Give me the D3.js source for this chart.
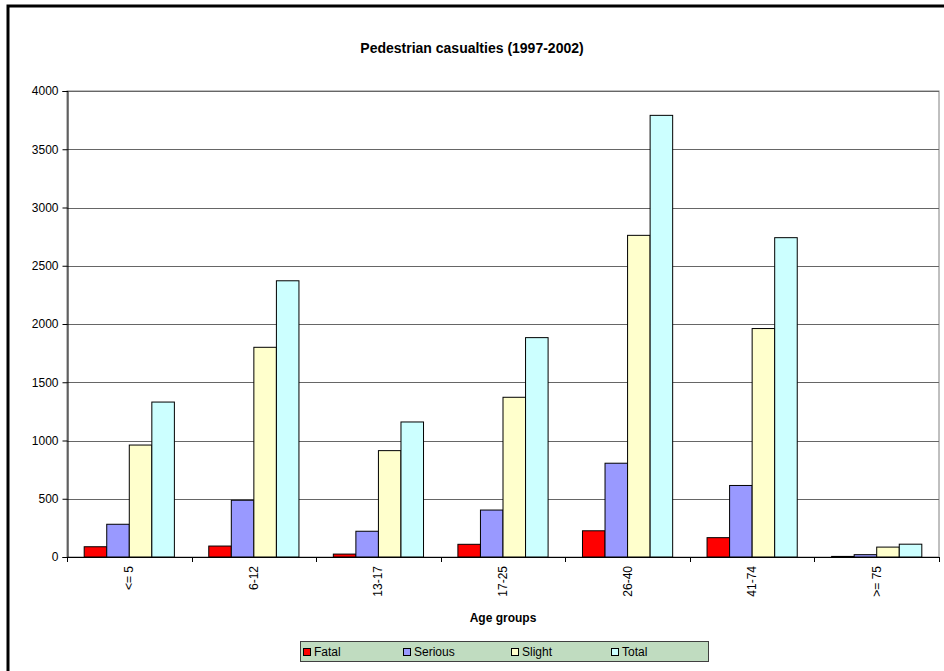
<!DOCTYPE html>
<html>
<head>
<meta charset="utf-8">
<script src="https://cdn.jsdelivr.net/npm/d3@7"></script>
<style>
  html, body { margin: 0; padding: 0; background: #fff; }
  svg { display: block; font-family: "Liberation Sans", Arial, sans-serif; }
</style>
</head>
<body>
<script>
// Pedestrian casualties by age group, 1997-2002
const categories = ["<= 5", "6-12", "13-17", "17-25", "26-40", "41-74", ">= 75"];
const seriesNames = ["Fatal", "Serious", "Slight", "Total"];
const fatal   = [88, 94, 25, 109, 225, 166, 5];
const serious = [281, 487, 221, 403, 805, 614, 20];
const slight  = [961, 1800, 913, 1371, 2761, 1961, 85];
const total   = [1330, 2371, 1159, 1883, 3791, 2741, 110];
const yTicks  = [0, 500, 1000, 1500, 2000, 2500, 3000, 3500, 4000];
const colors  = ["#FF0000", "#9999FF", "#FFFFCC", "#CCFFFF"];

const values = [fatal, serious, slight, total];
const rows = categories.map((c, i) => ({
  cat: c,
  vals: seriesNames.map((s, k) => ({ series: s, value: values[k][i] }))
}));

const W = 944, H = 671;
const plot = { left: 67, right: 939, top: 91, bottom: 557 };

const svg = d3.select("body").append("svg")
  .attr("width", W).attr("height", H);

// chart frame
svg.append("rect")
  .attr("x", 8).attr("y", 6)
  .attr("width", 1000).attr("height", 1000)
  .attr("fill", "#fff").attr("stroke", "#000").attr("stroke-width", 3);

const x0 = d3.scaleBand().domain(categories)
  .range([plot.left, plot.right]).paddingInner(0).paddingOuter(0);
const groupW = x0.bandwidth() * 0.724;
const x1 = d3.scaleBand().domain(seriesNames)
  .range([0, groupW]).padding(0);
const y = d3.scaleLinear().domain([0, 4000]).range([plot.bottom, plot.top]);

// plot area border
svg.append("rect")
  .attr("x", plot.left).attr("y", plot.top)
  .attr("width", plot.right - plot.left).attr("height", plot.bottom - plot.top)
  .attr("fill", "#fff").attr("stroke", "#808080").attr("stroke-width", 1);

// horizontal gridlines
svg.append("g").selectAll("line")
  .data(yTicks.filter(t => t > 0))
  .join("line")
  .attr("x1", plot.left).attr("x2", plot.right)
  .attr("y1", d => Math.round(y(d)) + 0.5).attr("y2", d => Math.round(y(d)) + 0.5)
  .attr("stroke", "#666").attr("stroke-width", 1);

// bars
const groups = svg.append("g").selectAll("g")
  .data(rows).join("g")
  .attr("transform", d => `translate(${x0(d.cat) + (x0.bandwidth() - groupW) / 2},0)`);

groups.selectAll("rect")
  .data(d => d.vals).join("rect")
  .attr("x", d => x1(d.series))
  .attr("y", d => y(d.value))
  .attr("width", x1.bandwidth())
  .attr("height", d => y(0) - y(d.value))
  .attr("fill", (d, i) => colors[i])
  .attr("stroke", "#000").attr("stroke-width", 1);

// y axis
const yAxis = svg.append("g")
  .attr("transform", `translate(${plot.left + 0.5},0)`)
  .call(d3.axisLeft(y).tickValues(yTicks).tickSize(5).tickPadding(4).tickFormat(d3.format("d")));
yAxis.select(".domain").attr("stroke", "#000");
yAxis.selectAll(".tick line").attr("stroke", "#000");
yAxis.selectAll("text").attr("font-size", 12).attr("fill", "#000")
  .attr("font-family", "'Liberation Sans', Arial, sans-serif");

// x axis: ticks at category boundaries
const xg = svg.append("g");
xg.append("line")
  .attr("x1", plot.left).attr("x2", plot.right)
  .attr("y1", plot.bottom + 0.5).attr("y2", plot.bottom + 0.5)
  .attr("stroke", "#000");
const bounds = categories.map(c => x0(c)).concat([plot.right]);
xg.selectAll("line.tk").data(bounds).join("line").attr("class", "tk")
  .attr("x1", d => Math.round(d) + 0.5).attr("x2", d => Math.round(d) + 0.5)
  .attr("y1", plot.bottom).attr("y2", plot.bottom + 5)
  .attr("stroke", "#000");
xg.selectAll("text").data(categories).join("text")
  .attr("transform", d => `translate(${x0(d) + x0.bandwidth() / 2 + 4},${plot.bottom + 9}) rotate(-90)`)
  .attr("text-anchor", "end")
  .attr("font-size", 12).attr("fill", "#000")
  .text(d => d);

// title
svg.append("text")
  .attr("x", 472).attr("y", 53)
  .attr("text-anchor", "middle")
  .attr("font-size", 14).attr("font-weight", "bold")
  .text("Pedestrian casualties (1997-2002)");

// x axis title
svg.append("text")
  .attr("x", (plot.left + plot.right) / 2).attr("y", 622)
  .attr("text-anchor", "middle")
  .attr("font-size", 12).attr("font-weight", "bold")
  .text("Age groups");

// legend
const legend = svg.append("g");
legend.append("rect")
  .attr("x", 300.5).attr("y", 641.5).attr("width", 408).attr("height", 20)
  .attr("fill", "#C0DCC0").attr("stroke", "#404040").attr("stroke-width", 1);
const legX = [303, 403, 511, 611];
const items = legend.selectAll("g").data(seriesNames).join("g")
  .attr("transform", (d, i) => `translate(${legX[i]},0)`);
items.append("rect")
  .attr("x", 0.5).attr("y", 648.5).attr("width", 7).attr("height", 7)
  .attr("fill", (d, i) => colors[i]).attr("stroke", "#000").attr("stroke-width", 1);
items.append("text")
  .attr("x", 11).attr("y", 656)
  .attr("font-size", 12).attr("fill", "#000")
  .text(d => d);
</script>
</body>
</html>
